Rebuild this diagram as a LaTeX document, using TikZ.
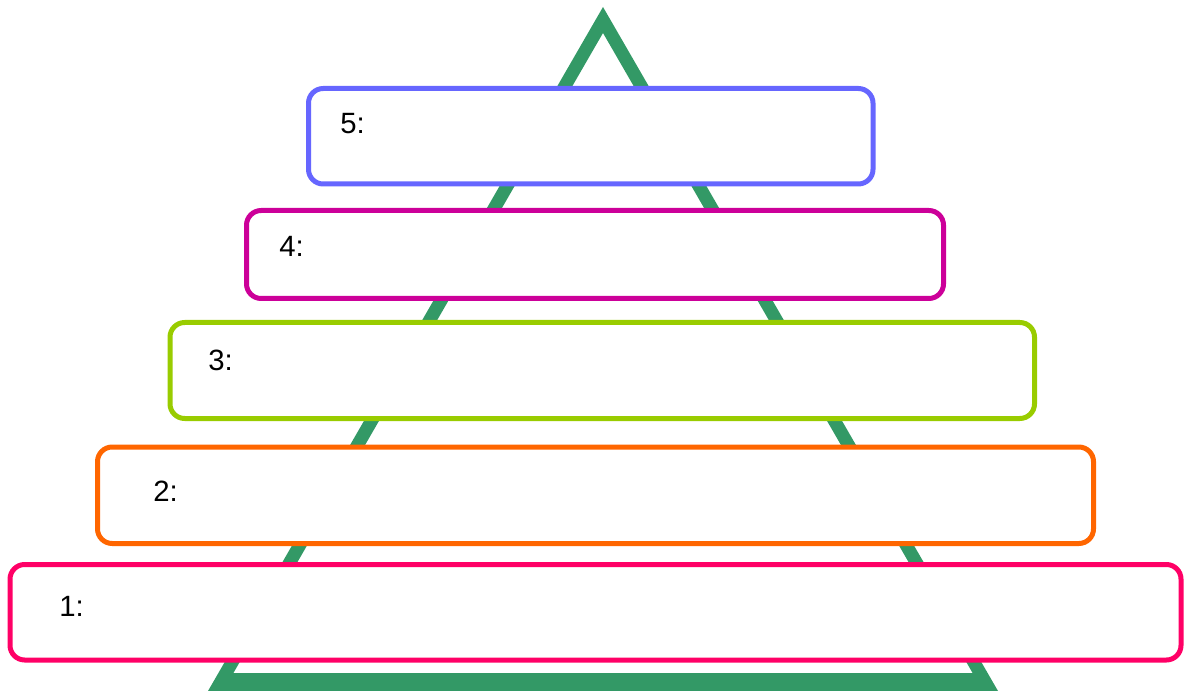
\documentclass[tikz,border=0pt]{standalone}
\usepackage{fontspec}
\setmainfont{Liberation Sans}
\definecolor{trigreen}{RGB}{51,153,102}
\definecolor{lvlfive}{RGB}{102,102,255}
\definecolor{lvlfour}{RGB}{204,0,153}
\definecolor{lvlthree}{RGB}{153,204,0}
\definecolor{lvltwo}{RGB}{255,102,0}
\definecolor{lvlone}{RGB}{255,0,102}
\begin{document}
\begin{tikzpicture}[x=0.75pt,y=-0.75pt]
\tikzset{level/.style={draw=#1,line width=3.75pt,rounded corners=11pt,fill=white},
  num/.style={anchor=west,inner sep=0pt,font=\fontsize{22}{26}\selectfont}}
\useasboundingbox (0,0) rectangle (1191,691);
% triangle frame, outer minus inner
\fill[trigreen,even odd rule] (603,7) -- (998,691) -- (208,691) -- cycle
  (603,33) -- (972.6,673) -- (233.4,673) -- cycle;
\draw[level=lvlfive] (308.5,88.5) rectangle (873,184);
\node[num] (n5) at (340,124) {5:};
\draw[level=lvlfour] (246.5,210.5) rectangle (943.5,298.5);
\node[num] (n4) at (279,246) {4:};
\draw[level=lvlthree] (170,322.5) rectangle (1034.5,418.5);
\node[num] (n3) at (208,360) {3:};
\draw[level=lvltwo] (97.5,447) rectangle (1093.5,543.5);
\node[num] (n2) at (153,491) {2:};
\draw[level=lvlone] (10,564.5) rectangle (1181,660);
\node[num] (n1) at (59,606) {1:};
\end{tikzpicture}
\end{document}
